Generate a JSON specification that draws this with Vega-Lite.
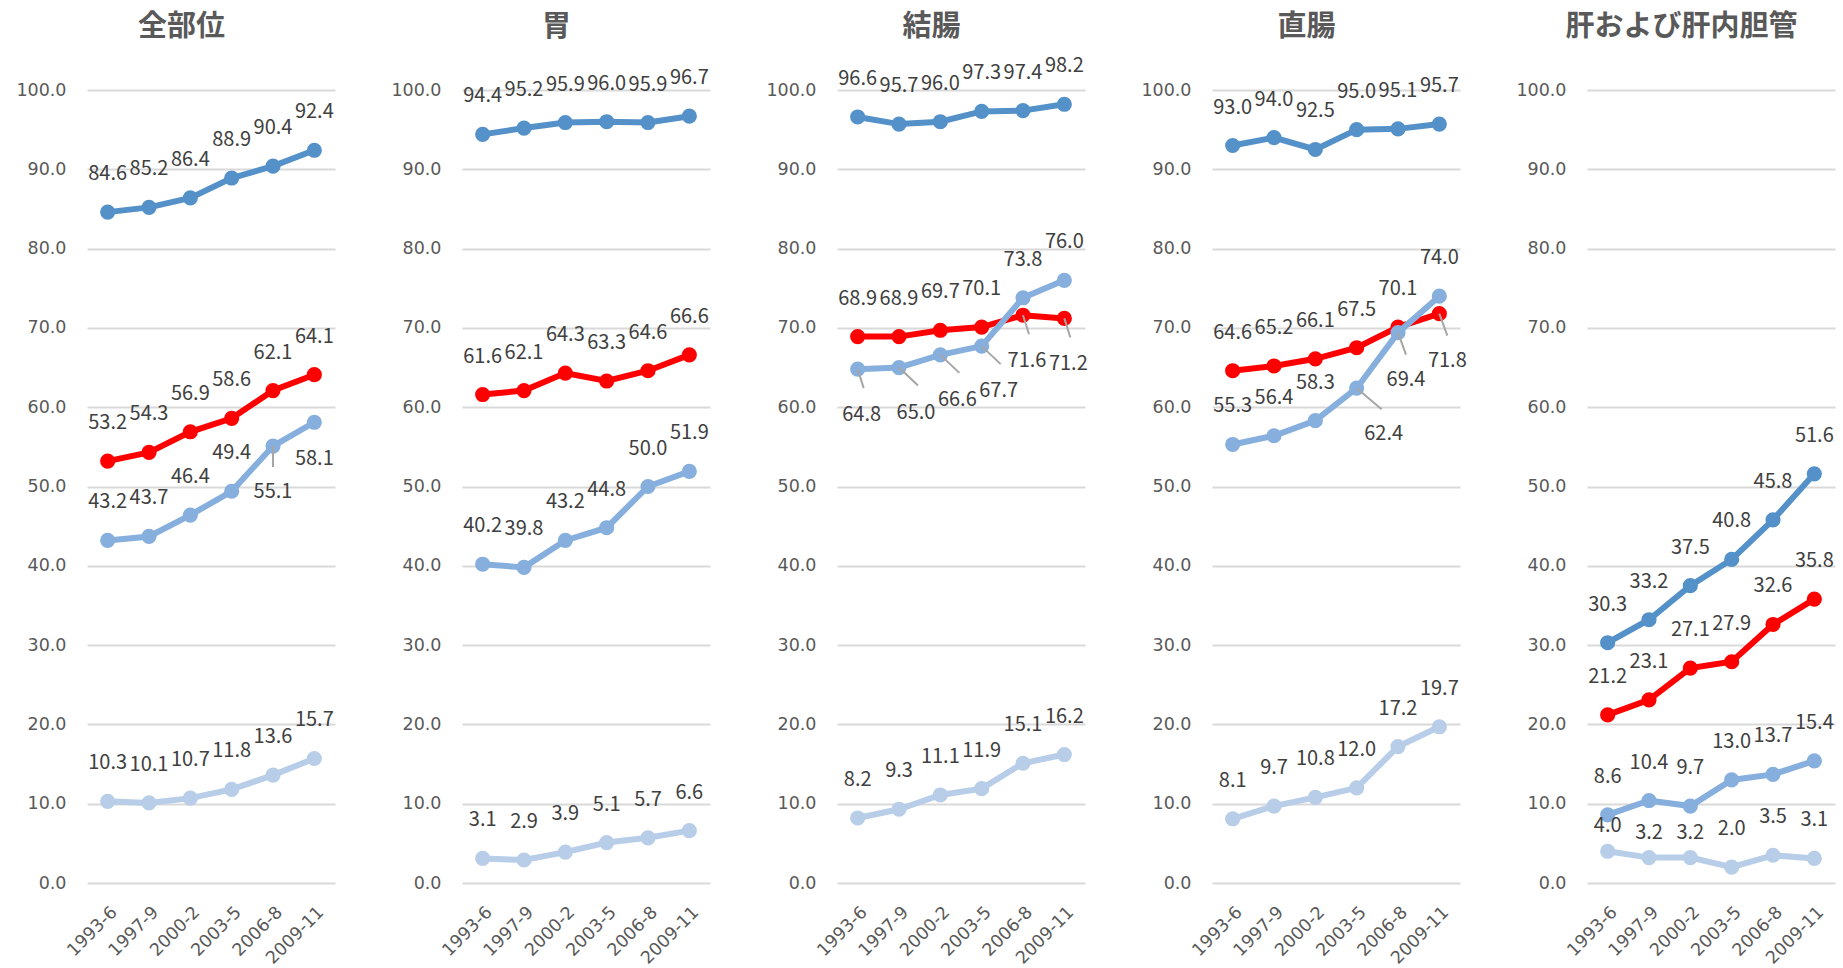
{
  "$schema": "https://vega.github.io/schema/vega-lite/v6.json",
  "background": "white",
  "padding": {"left": 15, "top": 12, "right": 4, "bottom": 0},
  "config": {
    "view": {"stroke": null},
    "font": "Noto Sans CJK JP",
    "axisY": {"grid": true, "gridColor": "#d9d9d9", "gridWidth": 2, "domain": false, "ticks": false, "labelFont": "DejaVu Sans", "labelFontSize": 17.5, "labelColor": "#595959", "labelPadding": 21, "format": ".1f",
      "titleAngle": 0, "titleX": 94, "titleY": -55, "titleAlign": "center", "titleBaseline": "alphabetic", "titleFont": "Noto Sans CJK JP", "titleFontSize": 29, "titleFontWeight": "bold", "titleColor": "#595959"},
    "axisX": {"grid": false, "domain": false, "ticks": false, "labelAngle": -45, "labelFont": "DejaVu Sans", "labelFontSize": 17.5, "labelColor": "#595959", "labelPadding": 20, "title": null}
  },
  "data": {"values": [
    {"site": "全部位", "series": "限局", "period": "1993-6", "value": 84.6},
    {"site": "全部位", "series": "限局", "period": "1997-9", "value": 85.2},
    {"site": "全部位", "series": "限局", "period": "2000-2", "value": 86.4},
    {"site": "全部位", "series": "限局", "period": "2003-5", "value": 88.9},
    {"site": "全部位", "series": "限局", "period": "2006-8", "value": 90.4},
    {"site": "全部位", "series": "限局", "period": "2009-11", "value": 92.4},
    {"site": "全部位", "series": "全体", "period": "1993-6", "value": 53.2},
    {"site": "全部位", "series": "全体", "period": "1997-9", "value": 54.3},
    {"site": "全部位", "series": "全体", "period": "2000-2", "value": 56.9},
    {"site": "全部位", "series": "全体", "period": "2003-5", "value": 58.6},
    {"site": "全部位", "series": "全体", "period": "2006-8", "value": 62.1},
    {"site": "全部位", "series": "全体", "period": "2009-11", "value": 64.1},
    {"site": "全部位", "series": "領域", "period": "1993-6", "value": 43.2},
    {"site": "全部位", "series": "領域", "period": "1997-9", "value": 43.7},
    {"site": "全部位", "series": "領域", "period": "2000-2", "value": 46.4},
    {"site": "全部位", "series": "領域", "period": "2003-5", "value": 49.4},
    {"site": "全部位", "series": "領域", "period": "2006-8", "value": 55.1},
    {"site": "全部位", "series": "領域", "period": "2009-11", "value": 58.1},
    {"site": "全部位", "series": "遠隔", "period": "1993-6", "value": 10.3},
    {"site": "全部位", "series": "遠隔", "period": "1997-9", "value": 10.1},
    {"site": "全部位", "series": "遠隔", "period": "2000-2", "value": 10.7},
    {"site": "全部位", "series": "遠隔", "period": "2003-5", "value": 11.8},
    {"site": "全部位", "series": "遠隔", "period": "2006-8", "value": 13.6},
    {"site": "全部位", "series": "遠隔", "period": "2009-11", "value": 15.7},

    {"site": "胃", "series": "限局", "period": "1993-6", "value": 94.4},
    {"site": "胃", "series": "限局", "period": "1997-9", "value": 95.2},
    {"site": "胃", "series": "限局", "period": "2000-2", "value": 95.9},
    {"site": "胃", "series": "限局", "period": "2003-5", "value": 96.0},
    {"site": "胃", "series": "限局", "period": "2006-8", "value": 95.9},
    {"site": "胃", "series": "限局", "period": "2009-11", "value": 96.7},
    {"site": "胃", "series": "全体", "period": "1993-6", "value": 61.6},
    {"site": "胃", "series": "全体", "period": "1997-9", "value": 62.1},
    {"site": "胃", "series": "全体", "period": "2000-2", "value": 64.3},
    {"site": "胃", "series": "全体", "period": "2003-5", "value": 63.3},
    {"site": "胃", "series": "全体", "period": "2006-8", "value": 64.6},
    {"site": "胃", "series": "全体", "period": "2009-11", "value": 66.6},
    {"site": "胃", "series": "領域", "period": "1993-6", "value": 40.2},
    {"site": "胃", "series": "領域", "period": "1997-9", "value": 39.8},
    {"site": "胃", "series": "領域", "period": "2000-2", "value": 43.2},
    {"site": "胃", "series": "領域", "period": "2003-5", "value": 44.8},
    {"site": "胃", "series": "領域", "period": "2006-8", "value": 50.0},
    {"site": "胃", "series": "領域", "period": "2009-11", "value": 51.9},
    {"site": "胃", "series": "遠隔", "period": "1993-6", "value": 3.1},
    {"site": "胃", "series": "遠隔", "period": "1997-9", "value": 2.9},
    {"site": "胃", "series": "遠隔", "period": "2000-2", "value": 3.9},
    {"site": "胃", "series": "遠隔", "period": "2003-5", "value": 5.1},
    {"site": "胃", "series": "遠隔", "period": "2006-8", "value": 5.7},
    {"site": "胃", "series": "遠隔", "period": "2009-11", "value": 6.6},

    {"site": "結腸", "series": "限局", "period": "1993-6", "value": 96.6},
    {"site": "結腸", "series": "限局", "period": "1997-9", "value": 95.7},
    {"site": "結腸", "series": "限局", "period": "2000-2", "value": 96.0},
    {"site": "結腸", "series": "限局", "period": "2003-5", "value": 97.3},
    {"site": "結腸", "series": "限局", "period": "2006-8", "value": 97.4},
    {"site": "結腸", "series": "限局", "period": "2009-11", "value": 98.2},
    {"site": "結腸", "series": "全体", "period": "1993-6", "value": 68.9},
    {"site": "結腸", "series": "全体", "period": "1997-9", "value": 68.9},
    {"site": "結腸", "series": "全体", "period": "2000-2", "value": 69.7},
    {"site": "結腸", "series": "全体", "period": "2003-5", "value": 70.1},
    {"site": "結腸", "series": "全体", "period": "2006-8", "value": 71.6},
    {"site": "結腸", "series": "全体", "period": "2009-11", "value": 71.2},
    {"site": "結腸", "series": "領域", "period": "1993-6", "value": 64.8},
    {"site": "結腸", "series": "領域", "period": "1997-9", "value": 65.0},
    {"site": "結腸", "series": "領域", "period": "2000-2", "value": 66.6},
    {"site": "結腸", "series": "領域", "period": "2003-5", "value": 67.7},
    {"site": "結腸", "series": "領域", "period": "2006-8", "value": 73.8},
    {"site": "結腸", "series": "領域", "period": "2009-11", "value": 76.0},
    {"site": "結腸", "series": "遠隔", "period": "1993-6", "value": 8.2},
    {"site": "結腸", "series": "遠隔", "period": "1997-9", "value": 9.3},
    {"site": "結腸", "series": "遠隔", "period": "2000-2", "value": 11.1},
    {"site": "結腸", "series": "遠隔", "period": "2003-5", "value": 11.9},
    {"site": "結腸", "series": "遠隔", "period": "2006-8", "value": 15.1},
    {"site": "結腸", "series": "遠隔", "period": "2009-11", "value": 16.2},

    {"site": "直腸", "series": "限局", "period": "1993-6", "value": 93.0},
    {"site": "直腸", "series": "限局", "period": "1997-9", "value": 94.0},
    {"site": "直腸", "series": "限局", "period": "2000-2", "value": 92.5},
    {"site": "直腸", "series": "限局", "period": "2003-5", "value": 95.0},
    {"site": "直腸", "series": "限局", "period": "2006-8", "value": 95.1},
    {"site": "直腸", "series": "限局", "period": "2009-11", "value": 95.7},
    {"site": "直腸", "series": "全体", "period": "1993-6", "value": 64.6},
    {"site": "直腸", "series": "全体", "period": "1997-9", "value": 65.2},
    {"site": "直腸", "series": "全体", "period": "2000-2", "value": 66.1},
    {"site": "直腸", "series": "全体", "period": "2003-5", "value": 67.5},
    {"site": "直腸", "series": "全体", "period": "2006-8", "value": 70.1},
    {"site": "直腸", "series": "全体", "period": "2009-11", "value": 71.8},
    {"site": "直腸", "series": "領域", "period": "1993-6", "value": 55.3},
    {"site": "直腸", "series": "領域", "period": "1997-9", "value": 56.4},
    {"site": "直腸", "series": "領域", "period": "2000-2", "value": 58.3},
    {"site": "直腸", "series": "領域", "period": "2003-5", "value": 62.4},
    {"site": "直腸", "series": "領域", "period": "2006-8", "value": 69.4},
    {"site": "直腸", "series": "領域", "period": "2009-11", "value": 74.0},
    {"site": "直腸", "series": "遠隔", "period": "1993-6", "value": 8.1},
    {"site": "直腸", "series": "遠隔", "period": "1997-9", "value": 9.7},
    {"site": "直腸", "series": "遠隔", "period": "2000-2", "value": 10.8},
    {"site": "直腸", "series": "遠隔", "period": "2003-5", "value": 12.0},
    {"site": "直腸", "series": "遠隔", "period": "2006-8", "value": 17.2},
    {"site": "直腸", "series": "遠隔", "period": "2009-11", "value": 19.7},

    {"site": "肝および肝内胆管", "series": "限局", "period": "1993-6", "value": 30.3},
    {"site": "肝および肝内胆管", "series": "限局", "period": "1997-9", "value": 33.2},
    {"site": "肝および肝内胆管", "series": "限局", "period": "2000-2", "value": 37.5},
    {"site": "肝および肝内胆管", "series": "限局", "period": "2003-5", "value": 40.8},
    {"site": "肝および肝内胆管", "series": "限局", "period": "2006-8", "value": 45.8},
    {"site": "肝および肝内胆管", "series": "限局", "period": "2009-11", "value": 51.6},
    {"site": "肝および肝内胆管", "series": "全体", "period": "1993-6", "value": 21.2},
    {"site": "肝および肝内胆管", "series": "全体", "period": "1997-9", "value": 23.1},
    {"site": "肝および肝内胆管", "series": "全体", "period": "2000-2", "value": 27.1},
    {"site": "肝および肝内胆管", "series": "全体", "period": "2003-5", "value": 27.9},
    {"site": "肝および肝内胆管", "series": "全体", "period": "2006-8", "value": 32.6},
    {"site": "肝および肝内胆管", "series": "全体", "period": "2009-11", "value": 35.8},
    {"site": "肝および肝内胆管", "series": "領域", "period": "1993-6", "value": 8.6},
    {"site": "肝および肝内胆管", "series": "領域", "period": "1997-9", "value": 10.4},
    {"site": "肝および肝内胆管", "series": "領域", "period": "2000-2", "value": 9.7},
    {"site": "肝および肝内胆管", "series": "領域", "period": "2003-5", "value": 13.0},
    {"site": "肝および肝内胆管", "series": "領域", "period": "2006-8", "value": 13.7},
    {"site": "肝および肝内胆管", "series": "領域", "period": "2009-11", "value": 15.4},
    {"site": "肝および肝内胆管", "series": "遠隔", "period": "1993-6", "value": 4.0},
    {"site": "肝および肝内胆管", "series": "遠隔", "period": "1997-9", "value": 3.2},
    {"site": "肝および肝内胆管", "series": "遠隔", "period": "2000-2", "value": 3.2},
    {"site": "肝および肝内胆管", "series": "遠隔", "period": "2003-5", "value": 2.0},
    {"site": "肝および肝内胆管", "series": "遠隔", "period": "2006-8", "value": 3.5},
    {"site": "肝および肝内胆管", "series": "遠隔", "period": "2009-11", "value": 3.1}
  ]},
  "bounds": "flush",
  "spacing": 127,
  "hconcat": [
    {
      "width": 248, "height": 793,
      "transform": [{"filter": "datum.site === '全部位'"}],
      "encoding": {
        "x": {"field": "period", "type": "ordinal", "sort": null, "scale": {"type": "point", "padding": 0.5}},
        "y": {"field": "value", "type": "quantitative", "title": "全部位", "scale": {"domain": [0, 100]}, "axis": {"values": [0, 10, 20, 30, 40, 50, 60, 70, 80, 90, 100]}},
        "color": {"field": "series", "type": "nominal", "scale": {"domain": ["限局", "全体", "領域", "遠隔"], "range": ["#5591c9", "#ff0000", "#86afdd", "#b7cde8"]}, "legend": null}
      },
      "layer": [
        {"transform": [{"filter": "datum.series === '限局' || datum.series === '全体'"}], "mark": {"type": "line", "strokeWidth": 6}},
        {"transform": [{"filter": "datum.series === '限局' || datum.series === '全体'"}], "mark": {"type": "circle", "size": 230, "opacity": 1}},
        {"transform": [{"filter": "datum.series === '領域' || datum.series === '遠隔'"}], "mark": {"type": "line", "strokeWidth": 6}},
        {"transform": [{"filter": "datum.series === '領域' || datum.series === '遠隔'"}], "mark": {"type": "circle", "size": 230, "opacity": 1}},
        {"transform": [{"filter": "datum.series === '領域' && datum.period === '2006-8'"}],
         "mark": {"type": "rule", "strokeWidth": 2, "x2Offset": 0, "y2Offset": 21},
         "encoding": {"x2": {"field": "period"}, "y2": {"field": "value"}, "color": {"value": "#a6a6a6"}}},
        {"transform": [{"filter": "!(datum.series === '領域' && (datum.period === '2006-8' || datum.period === '2009-11'))"}],
         "mark": {"type": "text", "dy": -38, "fontSize": 20, "font": "Noto Sans CJK JP"},
         "encoding": {"text": {"field": "value", "format": ".1f"}, "color": {"value": "#404040"}}},
        {"transform": [{"filter": "datum.series === '領域' && datum.period === '2006-8'"}],
         "mark": {"type": "text", "dy": 46, "fontSize": 20, "font": "Noto Sans CJK JP"},
         "encoding": {"text": {"field": "value", "format": ".1f"}, "color": {"value": "#404040"}}},
        {"transform": [{"filter": "datum.series === '領域' && datum.period === '2009-11'"}],
         "mark": {"type": "text", "dy": 37, "fontSize": 20, "font": "Noto Sans CJK JP"},
         "encoding": {"text": {"field": "value", "format": ".1f"}, "color": {"value": "#404040"}}}
      ]
    },
    {
      "width": 248, "height": 793,
      "transform": [{"filter": "datum.site === '胃'"}],
      "encoding": {
        "x": {"field": "period", "type": "ordinal", "sort": null, "scale": {"type": "point", "padding": 0.5}},
        "y": {"field": "value", "type": "quantitative", "title": "胃", "scale": {"domain": [0, 100]}, "axis": {"values": [0, 10, 20, 30, 40, 50, 60, 70, 80, 90, 100]}},
        "color": {"field": "series", "type": "nominal", "scale": {"domain": ["限局", "全体", "領域", "遠隔"], "range": ["#5591c9", "#ff0000", "#86afdd", "#b7cde8"]}, "legend": null}
      },
      "layer": [
        {"transform": [{"filter": "datum.series === '限局' || datum.series === '全体'"}], "mark": {"type": "line", "strokeWidth": 6}},
        {"transform": [{"filter": "datum.series === '限局' || datum.series === '全体'"}], "mark": {"type": "circle", "size": 230, "opacity": 1}},
        {"transform": [{"filter": "datum.series === '領域' || datum.series === '遠隔'"}], "mark": {"type": "line", "strokeWidth": 6}},
        {"transform": [{"filter": "datum.series === '領域' || datum.series === '遠隔'"}], "mark": {"type": "circle", "size": 230, "opacity": 1}},
        {"mark": {"type": "text", "dy": -38, "fontSize": 20, "font": "Noto Sans CJK JP"},
         "encoding": {"text": {"field": "value", "format": ".1f"}, "color": {"value": "#404040"}}}
      ]
    },
    {
      "width": 248, "height": 793,
      "transform": [{"filter": "datum.site === '結腸'"}],
      "encoding": {
        "x": {"field": "period", "type": "ordinal", "sort": null, "scale": {"type": "point", "padding": 0.5}},
        "y": {"field": "value", "type": "quantitative", "title": "結腸", "scale": {"domain": [0, 100]}, "axis": {"values": [0, 10, 20, 30, 40, 50, 60, 70, 80, 90, 100]}},
        "color": {"field": "series", "type": "nominal", "scale": {"domain": ["限局", "全体", "領域", "遠隔"], "range": ["#5591c9", "#ff0000", "#86afdd", "#b7cde8"]}, "legend": null}
      },
      "layer": [
        {"transform": [{"filter": "datum.series === '限局' || datum.series === '全体'"}], "mark": {"type": "line", "strokeWidth": 6}},
        {"transform": [{"filter": "datum.series === '限局' || datum.series === '全体'"}], "mark": {"type": "circle", "size": 230, "opacity": 1}},
        {"transform": [{"filter": "datum.series === '領域' || datum.series === '遠隔'"}], "mark": {"type": "line", "strokeWidth": 6}},
        {"transform": [{"filter": "datum.series === '領域' || datum.series === '遠隔'"}], "mark": {"type": "circle", "size": 230, "opacity": 1}},
        {"transform": [{"filter": "(datum.series === '領域' && datum.period === '1993-6') || (datum.series === '全体' && (datum.period === '2006-8' || datum.period === '2009-11'))"}],
         "mark": {"type": "rule", "strokeWidth": 2, "x2Offset": 6, "y2Offset": 19},
         "encoding": {"x2": {"field": "period"}, "y2": {"field": "value"}, "color": {"value": "#a6a6a6"}}},
        {"transform": [{"filter": "datum.series === '領域' && (datum.period === '1997-9' || datum.period === '2000-2' || datum.period === '2003-5')"}],
         "mark": {"type": "rule", "strokeWidth": 2, "x2Offset": 19, "y2Offset": 18},
         "encoding": {"x2": {"field": "period"}, "y2": {"field": "value"}, "color": {"value": "#a6a6a6"}}},
        {"transform": [{"filter": "!((datum.series === '領域' && datum.period !== '2006-8' && datum.period !== '2009-11') || (datum.series === '全体' && (datum.period === '2006-8' || datum.period === '2009-11')))"}],
         "mark": {"type": "text", "dy": -38, "fontSize": 20, "font": "Noto Sans CJK JP"},
         "encoding": {"text": {"field": "value", "format": ".1f"}, "color": {"value": "#404040"}}},
        {"transform": [{"filter": "(datum.series === '領域' && datum.period === '1993-6') || (datum.series === '全体' && (datum.period === '2006-8' || datum.period === '2009-11'))"}],
         "mark": {"type": "text", "dx": 4, "dy": 46, "fontSize": 20, "font": "Noto Sans CJK JP"},
         "encoding": {"text": {"field": "value", "format": ".1f"}, "color": {"value": "#404040"}}},
        {"transform": [{"filter": "datum.series === '領域' && (datum.period === '1997-9' || datum.period === '2000-2' || datum.period === '2003-5')"}],
         "mark": {"type": "text", "dx": 17, "dy": 45, "fontSize": 20, "font": "Noto Sans CJK JP"},
         "encoding": {"text": {"field": "value", "format": ".1f"}, "color": {"value": "#404040"}}}
      ]
    },
    {
      "width": 248, "height": 793,
      "transform": [{"filter": "datum.site === '直腸'"}],
      "encoding": {
        "x": {"field": "period", "type": "ordinal", "sort": null, "scale": {"type": "point", "padding": 0.5}},
        "y": {"field": "value", "type": "quantitative", "title": "直腸", "scale": {"domain": [0, 100]}, "axis": {"values": [0, 10, 20, 30, 40, 50, 60, 70, 80, 90, 100]}},
        "color": {"field": "series", "type": "nominal", "scale": {"domain": ["限局", "全体", "領域", "遠隔"], "range": ["#5591c9", "#ff0000", "#86afdd", "#b7cde8"]}, "legend": null}
      },
      "layer": [
        {"transform": [{"filter": "datum.series === '限局' || datum.series === '全体'"}], "mark": {"type": "line", "strokeWidth": 6}},
        {"transform": [{"filter": "datum.series === '限局' || datum.series === '全体'"}], "mark": {"type": "circle", "size": 230, "opacity": 1}},
        {"transform": [{"filter": "datum.series === '領域' || datum.series === '遠隔'"}], "mark": {"type": "line", "strokeWidth": 6}},
        {"transform": [{"filter": "datum.series === '領域' || datum.series === '遠隔'"}], "mark": {"type": "circle", "size": 230, "opacity": 1}},
        {"transform": [{"filter": "(datum.series === '領域' && datum.period === '2006-8') || (datum.series === '全体' && datum.period === '2009-11')"}],
         "mark": {"type": "rule", "strokeWidth": 2, "x2Offset": 8, "y2Offset": 22},
         "encoding": {"x2": {"field": "period"}, "y2": {"field": "value"}, "color": {"value": "#a6a6a6"}}},
        {"transform": [{"filter": "datum.series === '領域' && datum.period === '2003-5'"}],
         "mark": {"type": "rule", "strokeWidth": 2, "x2Offset": 25, "y2Offset": 21},
         "encoding": {"x2": {"field": "period"}, "y2": {"field": "value"}, "color": {"value": "#a6a6a6"}}},
        {"transform": [{"filter": "!((datum.series === '領域' && (datum.period === '2003-5' || datum.period === '2006-8')) || (datum.series === '全体' && datum.period === '2009-11'))"}],
         "mark": {"type": "text", "dy": -38, "fontSize": 20, "font": "Noto Sans CJK JP"},
         "encoding": {"text": {"field": "value", "format": ".1f"}, "color": {"value": "#404040"}}},
        {"transform": [{"filter": "(datum.series === '領域' && datum.period === '2006-8') || (datum.series === '全体' && datum.period === '2009-11')"}],
         "mark": {"type": "text", "dx": 8, "dy": 47, "fontSize": 20, "font": "Noto Sans CJK JP"},
         "encoding": {"text": {"field": "value", "format": ".1f"}, "color": {"value": "#404040"}}},
        {"transform": [{"filter": "datum.series === '領域' && datum.period === '2003-5'"}],
         "mark": {"type": "text", "dx": 27, "dy": 46, "fontSize": 20, "font": "Noto Sans CJK JP"},
         "encoding": {"text": {"field": "value", "format": ".1f"}, "color": {"value": "#404040"}}}
      ]
    },
    {
      "width": 248, "height": 793,
      "transform": [{"filter": "datum.site === '肝および肝内胆管'"}],
      "encoding": {
        "x": {"field": "period", "type": "ordinal", "sort": null, "scale": {"type": "point", "padding": 0.5}},
        "y": {"field": "value", "type": "quantitative", "title": "肝および肝内胆管", "scale": {"domain": [0, 100]}, "axis": {"values": [0, 10, 20, 30, 40, 50, 60, 70, 80, 90, 100]}},
        "color": {"field": "series", "type": "nominal", "scale": {"domain": ["限局", "全体", "領域", "遠隔"], "range": ["#5591c9", "#ff0000", "#86afdd", "#b7cde8"]}, "legend": null}
      },
      "layer": [
        {"transform": [{"filter": "datum.series === '限局' || datum.series === '全体'"}], "mark": {"type": "line", "strokeWidth": 6}},
        {"transform": [{"filter": "datum.series === '限局' || datum.series === '全体'"}], "mark": {"type": "circle", "size": 230, "opacity": 1}},
        {"transform": [{"filter": "datum.series === '領域' || datum.series === '遠隔'"}], "mark": {"type": "line", "strokeWidth": 6}},
        {"transform": [{"filter": "datum.series === '領域' || datum.series === '遠隔'"}], "mark": {"type": "circle", "size": 230, "opacity": 1}},
        {"transform": [{"filter": "!(datum.series === '遠隔' && (datum.period === '1993-6' || datum.period === '1997-9' || datum.period === '2000-2'))"}],
         "mark": {"type": "text", "dy": -38, "fontSize": 20, "font": "Noto Sans CJK JP"},
         "encoding": {"text": {"field": "value", "format": ".1f"}, "color": {"value": "#404040"}}},
        {"transform": [{"filter": "datum.series === '遠隔' && (datum.period === '1993-6' || datum.period === '1997-9' || datum.period === '2000-2')"}],
         "mark": {"type": "text", "dy": -25, "fontSize": 20, "font": "Noto Sans CJK JP"},
         "encoding": {"text": {"field": "value", "format": ".1f"}, "color": {"value": "#404040"}}}
      ]
    }
  ]
}
